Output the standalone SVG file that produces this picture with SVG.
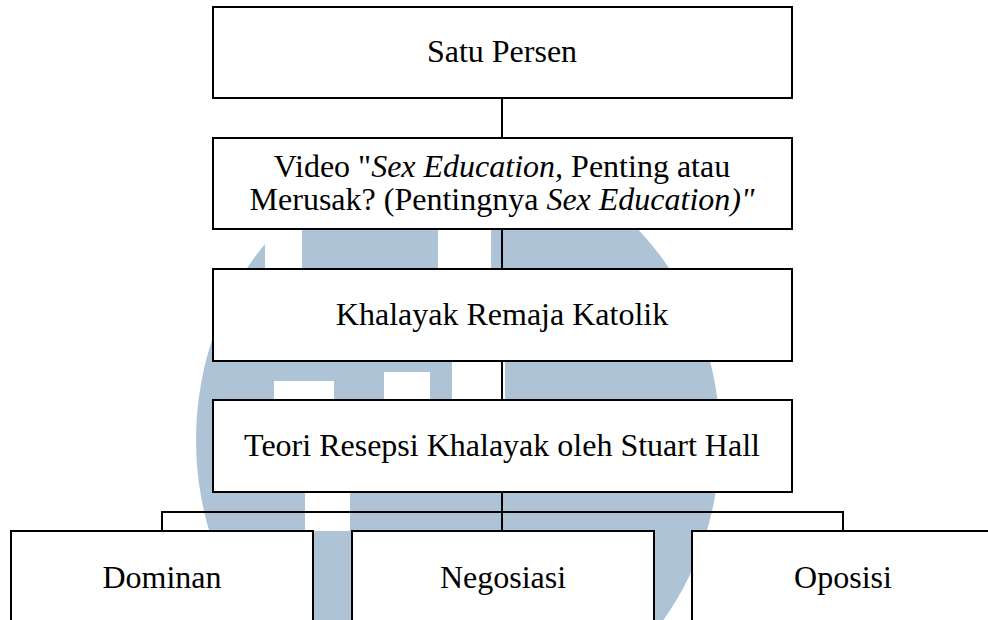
<svg xmlns="http://www.w3.org/2000/svg" width="988" height="620" viewBox="0 0 988 620">
<style>
.box{fill:#ffffff;stroke:#000000;stroke-width:2}
.wire{fill:none;stroke:#000000;stroke-width:2}
.t{font-family:"Liberation Serif","Times New Roman",serif;font-size:32px;fill:#000000;text-anchor:middle}
.wm{fill:#afc3d6}
.wmc{fill:#ffffff}
</style>
<rect width="988" height="620" fill="#ffffff"/>
<g id="watermark">
<ellipse class="wm" cx="458" cy="440" rx="262" ry="290"/>
<rect class="wmc" x="265" y="200" width="37" height="70"/>
<rect class="wmc" x="438" y="150" width="53" height="130"/>
<rect class="wmc" x="452" y="355" width="53" height="50"/>
<rect class="wmc" x="384" y="372" width="46" height="30"/>
<rect class="wmc" x="274" y="381" width="60" height="30"/>
<rect class="wmc" x="305" y="480" width="45" height="51"/>
</g>
<g id="connectors">
<line class="wire" x1="502" y1="98" x2="502" y2="137"/>
<line class="wire" x1="502" y1="229" x2="502" y2="269"/>
<line class="wire" x1="502" y1="361" x2="502" y2="400"/>
<line class="wire" x1="502" y1="492" x2="502" y2="531"/>
<polyline class="wire" points="162,531 162,512 843,512 843,531"/>
</g>
<g id="n1"><rect class="box" x="213" y="7" width="579" height="91"/><text class="t" x="502" y="62">Satu Persen</text></g>
<g id="n2"><rect class="box" x="213" y="138" width="579" height="91"/>
<text class="t" x="502" y="177">Video "<tspan font-style="italic">Sex Education,</tspan> Penting atau</text>
<text class="t" x="502" y="210">Merusak? (Pentingnya <tspan font-style="italic">Sex Education)"</tspan></text></g>
<g id="n3"><rect class="box" x="213" y="269" width="579" height="92"/><text class="t" x="502" y="325">Khalayak Remaja Katolik</text></g>
<g id="n4"><rect class="box" x="213" y="400" width="579" height="92"/><text class="t" x="502" y="456">Teori Resepsi Khalayak oleh Stuart Hall</text></g>
<g id="n5"><rect class="box" x="11" y="531" width="302" height="100"/><text class="t" x="162" y="588">Dominan</text></g>
<g id="n6"><rect class="box" x="352" y="531" width="302" height="100"/><text class="t" x="503" y="588">Negosiasi</text></g>
<g id="n7"><rect class="box" x="692" y="531" width="310" height="100"/><text class="t" x="843" y="588">Oposisi</text></g>
</svg>
